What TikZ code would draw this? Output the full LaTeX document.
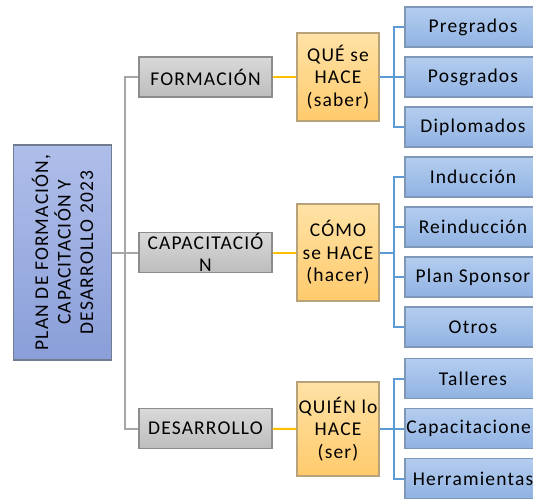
\documentclass[tikz,border=0pt]{standalone}
\usepackage{fontspec}
\setmainfont[LetterSpace=6]{Carlito}
\usepackage{tikz}
\usetikzlibrary{positioning,calc}

\definecolor{grayline}{HTML}{A6A6A6}
\definecolor{yelline}{HTML}{FFC000}
\definecolor{blueline}{HTML}{5B9BD5}
\definecolor{roottop}{HTML}{AFBEEA}
\definecolor{rootbot}{HTML}{8A9ED8}
\definecolor{rootedge}{HTML}{727C90}
\definecolor{graytop}{HTML}{D9D9D9}
\definecolor{graybot}{HTML}{BDBDBD}
\definecolor{grayedge}{HTML}{8C8C8C}
\definecolor{yeltop}{HTML}{FFE2A6}
\definecolor{yelbot}{HTML}{FFCA6C}
\definecolor{yeledge}{HTML}{B8A27A}
\definecolor{bluetop}{HTML}{B4CDEF}
\definecolor{bluebot}{HTML}{90B2E2}
\definecolor{blueedge}{HTML}{7F98B8}

\tikzset{
    box/.style={draw, line width=1.2pt, inner sep=0pt, align=center, font=\fontsize{19.5}{22.5}\selectfont},
    rootbox/.style={box, draw=rootedge, top color=roottop, bottom color=rootbot, rotate=90, minimum width=215pt, minimum height=98pt},
    graybox/.style={box, draw=grayedge, top color=graytop, bottom color=graybot, minimum width=133pt, minimum height=40pt},
    whybox/.style={box, draw=yeledge, top color=yeltop, bottom color=yelbot, minimum width=82pt},
    itembox/.style={box, draw=blueedge, top color=bluetop, bottom color=bluebot, minimum width=136pt, minimum height=40pt},
    gline/.style={draw=grayline, line width=2pt},
    yline/.style={draw=yelline, line width=2pt},
    bline/.style={draw=blueline, line width=2pt}
}

\begin{document}
\begin{tikzpicture}[x=1pt,y=-1pt]
    \clip (0,0) rectangle (533,500);
    \useasboundingbox (0,0) rectangle (533,500);

    % root
    \node[rootbox] (plan) at (62.5,252.5) {PLAN DE FORMACIÓN,\\CAPACITACIÓN Y\\DESARROLLO 2023};

    % gray level
    \node[graybox] (form) at (205.5,77) {FORMACIÓN};
    \node[graybox] (capa) at (205.5,252.5) {CAPACITACIÓ\\N};
    \node[graybox] (desa) at (205.5,428.5) {DESARROLLO};

    % yellow level
    \node[whybox, minimum height=88pt] (que) at (338,77) {QUÉ se\\HACE\\(saber)};
    \node[whybox, minimum height=97pt] (como) at (338,252.5) {CÓMO\\se HACE\\(hacer)};
    \node[whybox, minimum height=94pt] (quien) at (338,429) {QUIÉN lo\\HACE\\(ser)};

    % blue level
    \node[itembox] (pre) at (473,27) {Pregrados};
    \node[itembox] (pos) at (473,77) {Posgrados};
    \node[itembox] (dip) at (473,127) {Diplomados};
    \node[itembox] (ind) at (473,177) {Inducción};
    \node[itembox] (rei) at (473,227) {Reinducción};
    \node[itembox] (spo) at (473,277) {Plan Sponsor};
    \node[itembox] (otr) at (473,327) {Otros};
    \node[itembox] (tal) at (473,378.5) {Talleres};
    \node[itembox] (cap) at (473,428.5) {Capacitaciones};
    \node[itembox] (her) at (473,478.5) {Herramientas};

    % gray connectors
    \draw[gline] (plan.south) -- (capa.west);
    \draw[gline] (form.west) -- ++(-13,0) |- (desa.west);

    % yellow connectors
    \draw[yline] (form) -- (que);
    \draw[yline] (capa) -- (como);
    \draw[yline] (desa) -- (quien);

    % blue connectors
    \draw[bline] (que.east) -- ++(14,0) coordinate (qb);
    \foreach \c in {pre,pos,dip} \draw[bline] (qb) |- (\c.west);
    \draw[bline] (como.east) -- ++(14,0) coordinate (cb);
    \foreach \c in {ind,rei,spo,otr} \draw[bline] (cb) |- (\c.west);
    \draw[bline] (quien.east) -- ++(14,0) coordinate (wb);
    \foreach \c in {tal,cap,her} \draw[bline] (wb) |- (\c.west);
\end{tikzpicture}
\end{document}
